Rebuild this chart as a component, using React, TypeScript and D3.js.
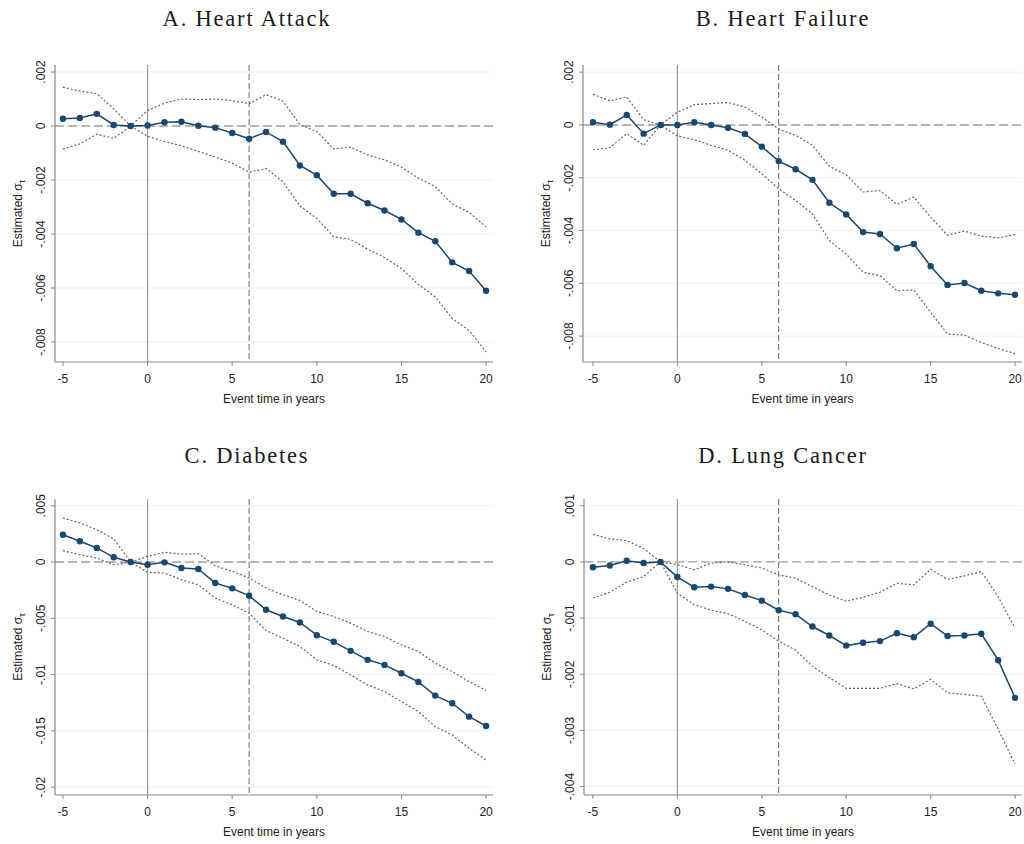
import React from 'react';
import * as d3 from 'd3';

const years = d3.range(-5, 21);

// A. Heart Attack
const heartAttackEst = [0.00027, 0.0003, 0.00045, 0.00004, 0, 0.00002, 0.00014, 0.00016, 0.00001, -0.00006, -0.00026, -0.00047, -0.00022, -0.00058, -0.00146, -0.00182, -0.00251, -0.00251, -0.00286, -0.00313, -0.00346, -0.00395, -0.00427, -0.00505, -0.00537, -0.0061];
const heartAttackHi = [0.00144, 0.00129, 0.0012, 0.00063, 0, 0.00057, 0.00085, 0.001, 0.00098, 0.001, 0.00094, 0.00083, 0.00116, 0.00092, 0.00005, -0.0002, -0.00085, -0.00078, -0.00107, -0.00125, -0.00152, -0.00193, -0.00224, -0.00289, -0.0032, -0.00373];
const heartAttackLo = [-0.00085, -0.00066, -0.0003, -0.00046, 0, -0.00038, -0.00057, -0.00073, -0.00094, -0.00115, -0.00137, -0.00171, -0.00157, -0.00206, -0.00296, -0.00342, -0.0041, -0.0042, -0.00456, -0.00487, -0.00528, -0.00587, -0.00633, -0.00713, -0.00757, -0.00837];

// B. Heart Failure
const heartFailureEst = [0.0001, 0.00001, 0.00038, -0.00033, 0, 0, 0.0001, 0, -0.00011, -0.00034, -0.00082, -0.00137, -0.00168, -0.00208, -0.00295, -0.00339, -0.00406, -0.00413, -0.00467, -0.00451, -0.00535, -0.00606, -0.00599, -0.00628, -0.00638, -0.00643];
const heartFailureHi = [0.00116, 0.00091, 0.00106, 0.0002, 0, 0.00048, 0.00077, 0.00081, 0.00085, 0.00068, 0.0003, -0.00016, -0.00039, -0.00077, -0.00157, -0.00189, -0.00254, -0.00248, -0.00301, -0.00273, -0.00349, -0.00418, -0.00402, -0.00421, -0.00428, -0.00415];
const heartFailureLo = [-0.00094, -0.00086, -0.00033, -0.00077, 0, -0.00042, -0.00056, -0.00077, -0.00096, -0.00134, -0.00185, -0.00242, -0.00286, -0.00337, -0.00438, -0.00489, -0.00558, -0.00571, -0.00628, -0.00625, -0.0071, -0.00792, -0.00796, -0.00824, -0.00847, -0.00866];

// C. Diabetes
const diabetesEst = [0.00243, 0.00184, 0.00125, 0.00042, 0, -0.00024, -0.00003, -0.00053, -0.00062, -0.00187, -0.00234, -0.003, -0.00424, -0.00484, -0.00537, -0.0065, -0.00709, -0.00789, -0.00869, -0.00914, -0.00988, -0.01065, -0.01187, -0.01255, -0.01374, -0.01457];
const diabetesHi = [0.00392, 0.00347, 0.00288, 0.00205, 0, 0.0005, 0.00086, 0.00071, 0.00074, -0.00033, -0.00083, -0.00142, -0.00231, -0.00291, -0.00341, -0.00439, -0.00484, -0.00543, -0.00617, -0.00662, -0.00736, -0.00795, -0.00899, -0.00973, -0.01062, -0.01142];
const diabetesLo = [0.00101, 0.00065, 0.00036, -0.00024, 0, -0.00092, -0.00098, -0.00157, -0.00202, -0.0032, -0.0038, -0.00454, -0.00608, -0.00677, -0.00751, -0.00869, -0.0092, -0.01003, -0.01092, -0.01151, -0.0124, -0.01329, -0.01463, -0.01537, -0.01656, -0.0176];

// D. Lung Cancer
const lungEst = [-0.000095, -0.000065, 0.00002, -0.00002, 0, -0.00027, -0.00045, -0.00044, -0.00048, -0.00059, -0.00069, -0.00086, -0.00093, -0.00115, -0.00131, -0.00149, -0.00144, -0.00141, -0.00127, -0.00134, -0.0011, -0.00132, -0.00131, -0.00128, -0.00175, -0.00242];
const lungHi = [0.00049, 0.00041, 0.00038, 0.00024, 0, -0.00005, -0.00014, -0.00002, 0, -0.00005, -0.00011, -0.00023, -0.00029, -0.00044, -0.00059, -0.0007, -0.00063, -0.00054, -0.00038, -0.00041, -0.00013, -0.00031, -0.00025, -0.00017, -0.00062, -0.00118];
const lungLo = [-0.00064, -0.00054, -0.00036, -0.00026, 0, -0.00056, -0.00076, -0.00086, -0.00092, -0.00106, -0.00121, -0.00141, -0.00157, -0.00186, -0.00206, -0.00225, -0.00225, -0.00225, -0.00217, -0.00226, -0.00209, -0.00233, -0.00236, -0.00239, -0.00298, -0.0036];

const xTicks = [-5, 0, 5, 10, 15, 20];
const ticksSmall = [0.002, 0, -0.002, -0.004, -0.006, -0.008];
const ticksDiabetes = [0.005, 0, -0.005, -0.01, -0.015, -0.02];
const ticksLung = [0.001, 0, -0.001, -0.002, -0.003, -0.004];
const titles = ['A. Heart Attack', 'B. Heart Failure', 'C. Diabetes', 'D. Lung Cancer'];

const fmt = (v: number) => {
  if (v === 0) return '0';
  const s = String(+v.toFixed(4));
  return s.replace('0.', '.');
};

const navy = '#1a476f';
const sans = 'Liberation Sans, Arial, sans-serif';

type PanelProps = {
  title: string;
  titleX: number;
  titleY: number;
  left: number;
  right: number;
  top: number;
  bottom: number;
  yDomain: [number, number];
  xDomain: [number, number];
  yTicks: number[];
  est: number[];
  hi: number[];
  lo: number[];
};

const Panel = (p: PanelProps) => {
  const x = d3.scaleLinear().domain(p.xDomain).range([p.left, p.right]);
  const y = d3.scaleLinear().domain(p.yDomain).range([p.bottom, p.top]);
  const line = d3
    .line<number>()
    .x((d, i) => x(years[i]))
    .y((d) => y(d));
  const midX = (p.left + p.right) / 2;
  const midY = (p.top + p.bottom) / 2;
  return (
    <g>
      <text
        x={p.titleX}
        y={p.titleY}
        textAnchor='middle'
        fontFamily='Liberation Serif, Times New Roman, serif'
        fontSize={22.5}
        letterSpacing={1.8}
        fill='#1a1a1a'
      >
        {p.title}
      </text>
      {/* grid */}
      {p.yTicks.map((t) => (
        <line key={'g' + t} x1={p.left} x2={p.right} y1={y(t)} y2={y(t)} stroke='#eef2f3' strokeWidth={1} />
      ))}
      {/* reference lines */}
      <line x1={x(0)} x2={x(0)} y1={p.top} y2={p.bottom} stroke='#9a9a9a' strokeWidth={1.2} />
      <line x1={x(6)} x2={x(6)} y1={p.top} y2={p.bottom} stroke='#666' strokeWidth={1} strokeDasharray='6,3' />
      <line x1={p.left} x2={p.right} y1={y(0)} y2={y(0)} stroke='#a0a0a0' strokeWidth={1.4} strokeDasharray='9,4' />
      {/* confidence bands */}
      <path d={line(p.hi) || ''} fill='none' stroke='#666' strokeWidth={1.2} strokeDasharray='2,2' />
      <path d={line(p.lo) || ''} fill='none' stroke='#666' strokeWidth={1.2} strokeDasharray='2,2' />
      {/* estimates */}
      <path d={line(p.est) || ''} fill='none' stroke={navy} strokeWidth={1.5} />
      {p.est.map((v, i) => (
        <circle key={'c' + i} cx={x(years[i])} cy={y(v)} r={3.2} fill={navy} />
      ))}
      {/* axes */}
      <line x1={p.left} x2={p.left} y1={p.top} y2={p.bottom} stroke='#888' strokeWidth={1.2} />
      <line x1={p.left} x2={p.right} y1={p.bottom} y2={p.bottom} stroke='#888' strokeWidth={1.2} />
      {p.yTicks.map((t) => (
        <g key={'y' + t}>
          <line x1={p.left - 4} x2={p.left} y1={y(t)} y2={y(t)} stroke='#888' strokeWidth={1} />
          <text
            transform={`translate(${p.left - 10},${y(t)}) rotate(-90)`}
            textAnchor='middle'
            fontFamily={sans}
            fontSize={12}
            fill='#222'
          >
            {fmt(t)}
          </text>
        </g>
      ))}
      {xTicks.map((t) => (
        <g key={'x' + t}>
          <line x1={x(t)} x2={x(t)} y1={p.bottom} y2={p.bottom + 4} stroke='#888' strokeWidth={1} />
          <text x={x(t)} y={p.bottom + 21} textAnchor='middle' fontFamily={sans} fontSize={12} fill='#222'>
            {t}
          </text>
        </g>
      ))}
      <text x={midX} y={p.bottom + 41} textAnchor='middle' fontFamily={sans} fontSize={12} fill='#222'>
        Event time in years
      </text>
      <text
        transform={`translate(${p.left - 33},${midY}) rotate(-90)`}
        textAnchor='middle'
        fontFamily={sans}
        fontSize={12}
        fill='#222'
      >
        Estimated σ
        <tspan fontSize={9} dy={3}>τ</tspan>
      </text>
    </g>
  );
};

export default function App() {
  return (
    <svg width={1024} height={844} style={{ position: 'absolute', left: 0, top: 0, background: '#fff' }}>
      <rect width={1024} height={844} fill='#fff' />
      <Panel
        title={titles[0]}
        titleX={247}
        titleY={26}
        left={55}
        right={493}
        top={65}
        bottom={362}
        xDomain={[-5.47, 20.41]}
        yDomain={[-0.00874, 0.00226]}
        yTicks={ticksSmall}
        est={heartAttackEst}
        hi={heartAttackHi}
        lo={heartAttackLo}
      />
      <Panel
        title={titles[1]}
        titleX={783}
        titleY={26}
        left={583}
        right={1022}
        top={65}
        bottom={362}
        xDomain={[-5.59, 20.41]}
        yDomain={[-0.00898, 0.00227]}
        yTicks={ticksSmall}
        est={heartFailureEst}
        hi={heartFailureHi}
        lo={heartFailureLo}
      />
      <Panel
        title={titles[2]}
        titleX={247}
        titleY={463}
        left={55}
        right={493}
        top={499}
        bottom={795}
        xDomain={[-5.47, 20.41]}
        yDomain={[-0.0207, 0.0056]}
        yTicks={ticksDiabetes}
        est={diabetesEst}
        hi={diabetesHi}
        lo={diabetesLo}
      />
      <Panel
        title={titles[3]}
        titleX={783}
        titleY={463}
        left={584}
        right={1022}
        top={499}
        bottom={795}
        xDomain={[-5.53, 20.41]}
        yDomain={[-0.00415, 0.00112]}
        yTicks={ticksLung}
        est={lungEst}
        hi={lungHi}
        lo={lungLo}
      />
    </svg>
  );
}
